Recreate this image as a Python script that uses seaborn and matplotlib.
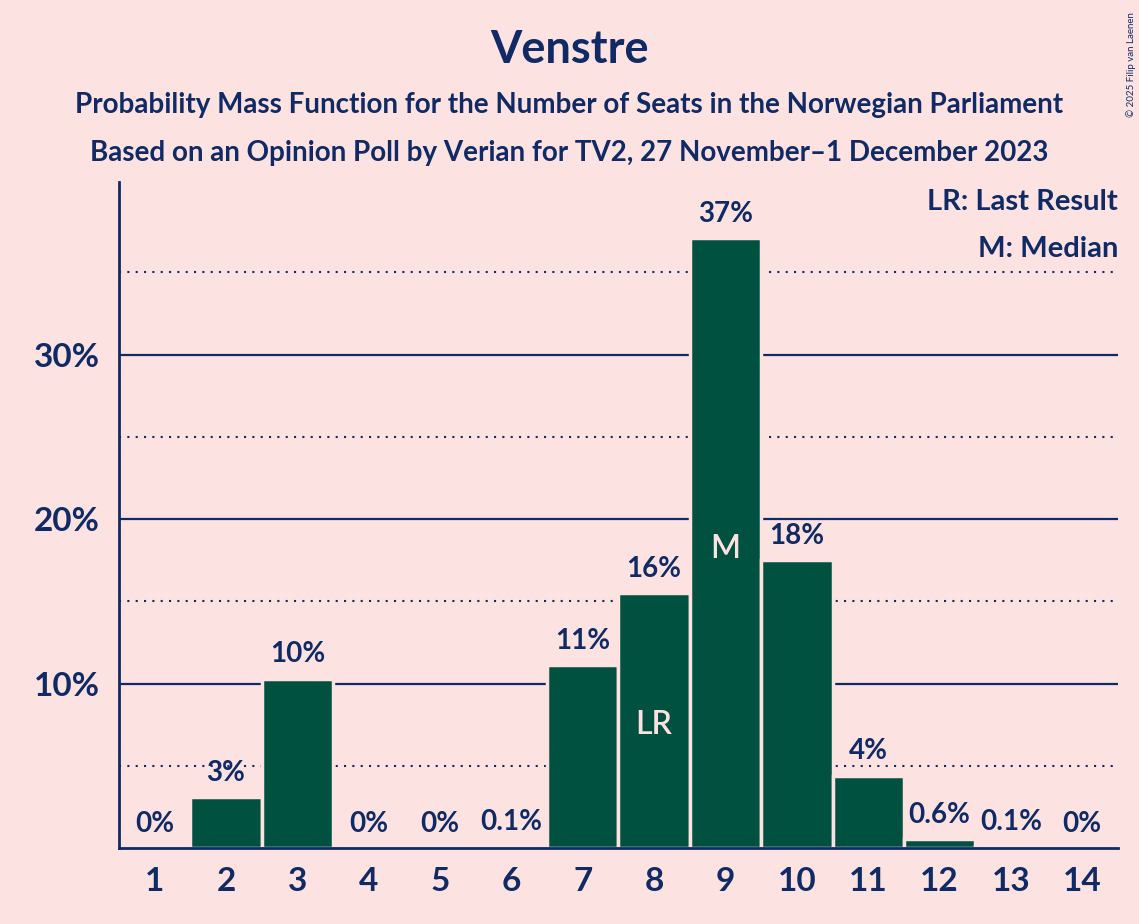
import matplotlib
matplotlib.use("Agg")
import matplotlib.pyplot as plt
import seaborn as sns
import pandas as pd

# data
seats = [1, 2, 3, 4, 5, 6, 7, 8, 9, 10, 11, 12, 13, 14]
probs = [0, 3.1, 10.3, 0, 0, 0.1, 11.1, 15.5, 37.1, 17.5, 4.4, 0.55, 0.1, 0]
bar_labels = ["0%", "3%", "10%", "0%", "0%", "0.1%", "11%", "16%", "37%", "18%",
              "4%", "0.6%", "0.1%", "0%"]
last_result_seat = 8
median_seat = 9

title = "Venstre"
subtitle1 = "Probability Mass Function for the Number of Seats in the Norwegian Parliament"
subtitle2 = "Based on an Opinion Poll by Verian for TV2, 27 November\u20131 December 2023"

bg = "#fde2e2"
navy = "#0f2a64"
green = "#00513f"

sns.set_theme(style="white")
plt.rcParams["font.family"] = ["Lato", "DejaVu Sans"]

df = pd.DataFrame({"seats": seats, "prob": probs})

fig = plt.figure(figsize=(11.39, 9.24), dpi=100, facecolor=bg)
ax = fig.add_axes([0.1045, 0.0823, 0.877, 0.7207])
ax.set_facecolor(bg)

x_lo, x_hi = -0.5, len(seats) - 0.5

# grid lines
ax.hlines([5, 15, 25, 35], x_lo, x_hi, color=navy, lw=1.5, ls=(0, (1, 3)), zorder=0)
ax.hlines([10, 20, 30], x_lo, x_hi, color=navy, lw=1.6, zorder=0)

sns.barplot(data=df, x="seats", y="prob", order=seats, color=green, saturation=1,
            width=1.0, edgecolor=bg, linewidth=2.5, ax=ax, zorder=2)

for i, (v, lab) in enumerate(zip(probs, bar_labels)):
    ax.annotate(lab, (i, v), xytext=(0, 8), textcoords="offset points",
                ha="center", va="bottom", fontsize=20, color=navy, fontweight="bold")

lr_i = seats.index(last_result_seat)
m_i = seats.index(median_seat)
ax.text(lr_i, 7.5, "LR", ha="center", va="center", fontsize=23, color=bg, fontweight="semibold")
ax.text(m_i, 18.2, "M", ha="center", va="center", fontsize=23, color=bg, fontweight="semibold")

ax.set_xlim(x_lo, x_hi)
ax.set_ylim(0, 40.5)
ax.set_yticks([10, 20, 30])
ax.set_yticklabels(["10%", "20%", "30%"])
ax.set_xticks(range(len(seats)))
ax.set_xticklabels([str(s) for s in seats])
ax.tick_params(axis="both", length=0, labelsize=24, labelcolor=navy, pad=14)
for t in ax.get_xticklabels() + ax.get_yticklabels():
    t.set_fontweight("bold")
ax.set_xlabel("")
ax.set_ylabel("")
for s in ["top", "right"]:
    ax.spines[s].set_visible(False)
for s in ["left", "bottom"]:
    ax.spines[s].set_color(navy)
    ax.spines[s].set_linewidth(2)
    ax.spines[s].set_zorder(5)

ax.text(1.0, 0.97, "LR: Last Result", transform=ax.transAxes, ha="right", va="center",
        fontsize=21, color=navy, fontweight="bold")
ax.text(1.0, 0.9, "M: Median", transform=ax.transAxes, ha="right", va="center",
        fontsize=21, color=navy, fontweight="bold")

fig.text(0.5, 0.946, title, ha="center", va="center", fontsize=32.5, color=navy, fontweight="bold")
fig.text(0.5, 0.886, subtitle1, ha="center", va="center", fontsize=20, color=navy, fontweight="bold")
fig.text(0.5, 0.834, subtitle2, ha="center", va="center", fontsize=20, color=navy, fontweight="bold")
fig.text(0.993, 0.93, "\u00a9 2025 Filip van Laenen", rotation=90, ha="center", va="center",
         fontsize=7, color=navy)

fig.savefig("out.png", dpi=100, facecolor=bg)
